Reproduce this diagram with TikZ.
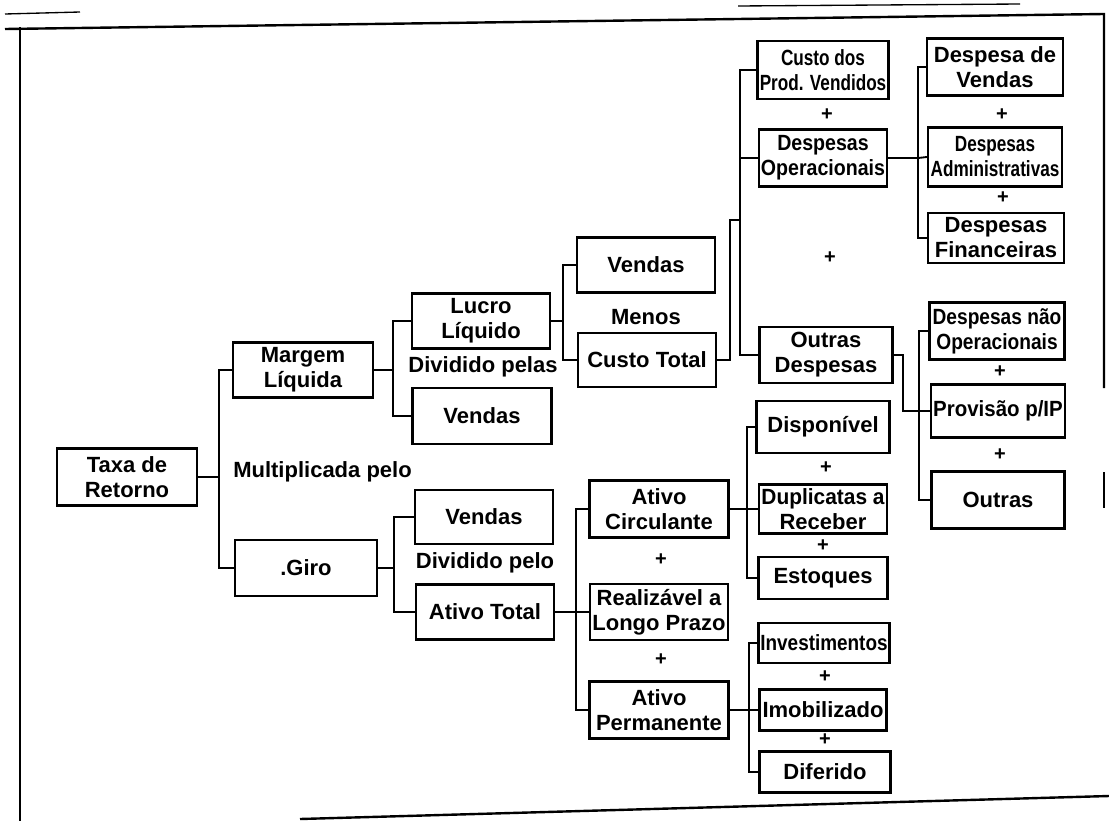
\documentclass[tikz,border=0pt]{standalone}
\usepackage{fontspec}
\usepackage{graphicx}
\setmainfont{Liberation Sans}
\newcommand\hsq[2]{\scalebox{#1}[1]{#2}}
\begin{document}
\begin{tikzpicture}[x=0.75pt,y=-0.75pt,
  box/.style={draw, line width=1.7pt, inner sep=0pt, align=center,
    font=\fontsize{16.5}{18.75}\selectfont\bfseries},
  sz/.style 2 args={minimum width={#1*0.75pt}, minimum height={#2*0.75pt}},
  lbl/.style={inner sep=0pt, font=\fontsize{16.5}{18.75}\selectfont\bfseries},
  plus/.style={inner sep=0pt, font=\fontsize{15}{16}\selectfont\bfseries},
  conn/.style={line width=1.4pt},
  frame/.style={line width=1.8pt}]
\useasboundingbox (0,0) rectangle (1109,821);

% frame
\draw[frame] (5,29) -- (1104,14) -- (1104,388);
\draw[frame] (1104,472) -- (1104,508);
\draw[frame] (20,27) -- (20,821);
\draw[frame] (300,819) -- (1109,796);
\draw[line width=1pt] (5,14) -- (80,12);
\draw[line width=1pt] (738,6) -- (1020,4);

% level 0-1
\node[box, sz={140}{57}] (taxa) at (127,477) {Taxa de\\Retorno};
\node[box, sz={140}{55}] (margem) at (303,370) {Margem\\Líquida};
\node[box, sz={142}{56}] (giro) at (306,568) {.Giro};
\node[lbl, anchor=west] (mult) at (233,472) {Multiplicada pelo};

% Margem branch
\node[box, sz={138}{55}] (lucro) at (481,321) {Lucro\\Líquido};
\node[box, sz={139}{56}] (vendas1) at (482,416) {Vendas};
\node[lbl] (divpelas) at (483,367) {Dividido pelas};

\node[box, sz={138}{55}] (vendas2) at (646,265) {Vendas};
\node[box, sz={138}{54}] (custo) at (647,360) {Custo Total};
\node[lbl] (menos) at (646,317) {Menos};

\node[box, sz={131}{58}] (cpv) at (823,70) {\hsq{0.78}{Custo dos}\\\hsq{0.78}{Prod. Vendidos}};
\node[box, sz={128}{57}] (despop) at (823,158) {\hsq{0.89}{Despesas}\\\hsq{0.89}{Operacionais}};
\node[box, sz={133}{56}] (outrasdesp) at (826,355) {Outras\\Despesas};
\node[plus] (p1) at (827,115) {+};
\node[plus] (p2) at (830,258) {+};

\node[box, sz={136}{57}] (despv) at (995,67) {Despesa de\\Vendas};
\node[box, sz={134}{59}] (despadm) at (995,157) {\hsq{0.78}{Despesas}\\\hsq{0.78}{Administrativas}};
\node[box, sz={136}{50}] (despfin) at (996,238) {Despesas\\Financeiras};
\node[plus] (p3) at (1002,115) {+};
\node[plus] (p4) at (1003,198) {+};

\node[box, sz={135}{57}] (despnao) at (997,331) {\hsq{0.87}{Despesas não}\\\hsq{0.87}{Operacionais}};
\node[box, sz={134}{53}] (prov) at (998,411) {\hsq{0.93}{Provisão p/IP}};
\node[box, sz={133}{57}] (outras) at (998,500) {Outras};
\node[plus] (p5) at (1000,372) {+};
\node[plus] (p6) at (1000,455) {+};

% Giro branch
\node[box, sz={138}{54}] (vendas3) at (484,517) {Vendas};
\node[box, sz={138}{55}] (ativot) at (485,612) {Ativo Total};
\node[lbl] (divpelo) at (485,563) {Dividido pelo};

\node[box, sz={139}{57}] (ativoc) at (659,509) {Ativo\\Circulante};
\node[box, sz={138}{56}] (realiz) at (659,612) {Realizável a\\Longo Prazo};
\node[box, sz={139}{57}] (ativop) at (659,710) {Ativo\\Permanente};
\node[plus] (p7) at (661,560) {+};
\node[plus] (p8) at (661,660) {+};

\node[box, sz={133}{52}] (disp) at (823,427) {Disponível};
\node[box, sz={128}{49}] (dupl) at (823,509) {\hsq{0.95}{Duplicatas a}\\Receber};
\node[box, sz={129}{42}] (estoq) at (823,578) {Estoques};
\node[plus] (p9) at (826,468) {+};
\node[plus] (p10) at (823,546) {+};

\node[box, sz={131}{40}] (invest) at (824,643) {\hsq{0.86}{Investimentos}};
\node[box, sz={127}{41}] (imob) at (823,710) {Imobilizado};
\node[box, sz={131}{41}] (difer) at (825,772) {Diferido};
\node[plus] (p11) at (825,677) {+};
\node[plus] (p12) at (825,740) {+};

% connectors
\draw[conn] (taxa.east) -- ++(21,0) |- (margem.west);
\draw[conn] (taxa.east) -- ++(21,0) |- (giro.west);

\draw[conn] (margem.east) -- ++(19,0) |- (lucro.west);
\draw[conn] (margem.east) -- ++(19,0) |- (vendas1.west);

\draw[conn] (lucro.east) -- ++(12,0) |- (vendas2.west);
\draw[conn] (lucro.east) -- ++(12,0) |- (custo.west);

\coordinate (j0) at (730,220);
\coordinate (j1) at (740,220);
\draw[conn] (custo.east) -| (j0) -- (j1);
\draw[conn] (j1) |- (cpv.west);
\draw[conn] (j1) |- (despop.west);
\draw[conn] (j1) |- (outrasdesp.west);

\draw[conn] (despop.east) -- ++(30,0) |- (despv.west);
\draw[conn] (despop.east) -- ++(30,0) -- (despadm.west);
\draw[conn] (despop.east) -- ++(30,0) |- (despfin.west);

\coordinate (j2) at (903,411);
\coordinate (j3) at (919,411);
\draw[conn] (outrasdesp.east) -| (j2) -- (prov.west);
\draw[conn] (j3) |- (despnao.west);
\draw[conn] (j3) |- (outras.west);

\draw[conn] (giro.east) -- ++(16,0) |- (vendas3.west);
\draw[conn] (giro.east) -- ++(16,0) |- (ativot.west);

\draw[conn] (ativot.east) -- ++(21,0) |- (ativoc.west);
\draw[conn] (ativot.east) -- (realiz.west);
\draw[conn] (ativot.east) -- ++(21,0) |- (ativop.west);

\draw[conn] (ativoc.east) -- ++(17,0) |- (disp.west);
\draw[conn] (ativoc.east) -- (dupl.west);
\draw[conn] (ativoc.east) -- ++(17,0) |- (estoq.west);

\draw[conn] (ativop.east) -- ++(19,0) |- (invest.west);
\draw[conn] (ativop.east) -- (imob.west);
\draw[conn] (ativop.east) -- ++(19,0) |- (difer.west);
\end{tikzpicture}
\end{document}
